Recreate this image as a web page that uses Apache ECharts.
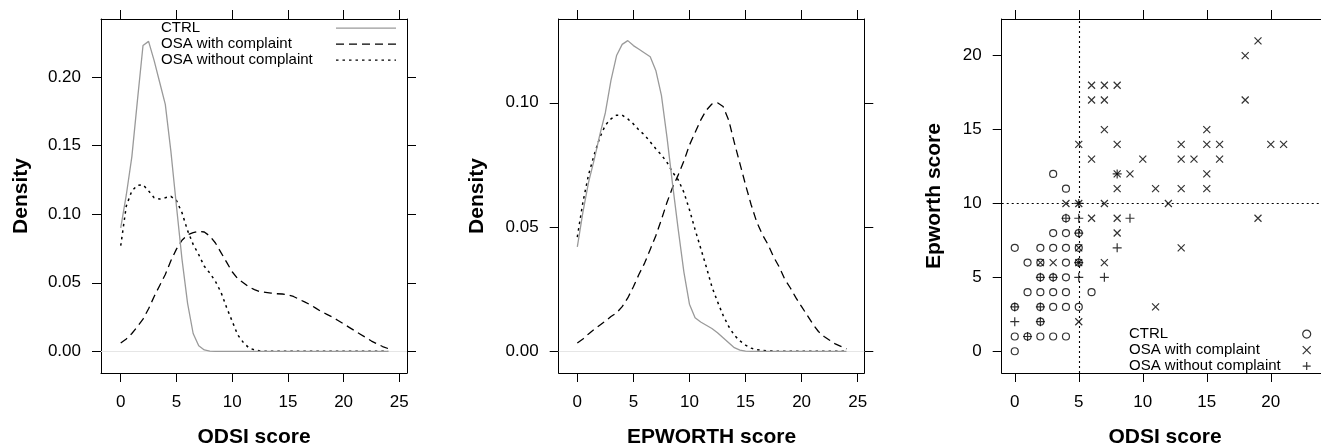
<!DOCTYPE html>
<html>
<head>
<meta charset="utf-8">
<script src="https://cdn.jsdelivr.net/npm/echarts@6/dist/echarts.min.js"></script>
<style>
html, body { margin: 0; padding: 0; background: #fff; }
#container1 { width: 1321px; height: 444px; }
</style>
</head>
<body>
<div id="container1"></div>
<script>
// group names
var groups = ['CTRL', 'OSA with complaint', 'OSA without complaint'];

// density evaluation grid (score)
var densityX = [0, 0.5, 1, 1.5, 2, 2.5, 3, 3.5, 4, 4.5, 5, 5.5, 6, 6.5, 7, 7.5, 8, 8.5, 9, 9.5,
    10, 10.5, 11, 11.5, 12, 12.5, 13, 13.5, 14, 14.5, 15, 15.5, 16, 16.5, 17, 17.5, 18, 18.5, 19, 19.5,
    20, 20.5, 21, 21.5, 22, 22.5, 23, 23.5, 24];

// ODSI density
var odsiCtrl = [0.090, 0.114, 0.142, 0.183, 0.223, 0.226, 0.212, 0.196, 0.180, 0.146, 0.106, 0.067, 0.035, 0.013, 0.004, 0.001, 0.0002,
    0, 0, 0, 0, 0, 0, 0, 0, 0, 0, 0, 0, 0, 0, 0, 0, 0, 0, 0, 0, 0, 0, 0, 0, 0, 0, 0, 0, 0, 0, 0, 0];
var odsiWith = [0.006, 0.009, 0.013, 0.018, 0.0235, 0.031, 0.040, 0.048, 0.056, 0.066, 0.0745, 0.081, 0.085, 0.0865, 0.0875, 0.087, 0.084, 0.079, 0.072, 0.065,
    0.058, 0.053, 0.050, 0.047, 0.045, 0.0435, 0.043, 0.0425, 0.042, 0.0418, 0.0412, 0.040, 0.038, 0.036, 0.034, 0.0315, 0.029, 0.027, 0.025, 0.0225,
    0.020, 0.0175, 0.015, 0.0125, 0.010, 0.0075, 0.0055, 0.0035, 0.002];
var odsiWithout = [0.077, 0.106, 0.117, 0.121, 0.1215, 0.117, 0.112, 0.111, 0.112, 0.113, 0.110, 0.101, 0.088, 0.078, 0.0705, 0.062, 0.057, 0.051, 0.043, 0.032,
    0.022, 0.012, 0.0065, 0.0025, 0.001, 0.0003, 0.0001, 0, 0, 0, 0, 0, 0, 0, 0, 0, 0, 0, 0, 0, 0, 0, 0, 0, 0, 0, 0, 0, 0];

// EPWORTH density
var epwCtrl = [0.042, 0.056, 0.068, 0.077, 0.087, 0.096, 0.109, 0.119, 0.1235, 0.125, 0.123, 0.1215, 0.120, 0.1185, 0.113, 0.103, 0.086, 0.067, 0.049, 0.032,
    0.019, 0.0135, 0.0118, 0.0105, 0.0092, 0.0075, 0.0055, 0.0035, 0.0015, 0.0005, 0.0001, 0, 0, 0, 0, 0, 0, 0, 0, 0, 0, 0, 0, 0, 0, 0, 0, 0, 0];
var epwWith = [0.0034, 0.005, 0.007, 0.0088, 0.0105, 0.0122, 0.014, 0.0155, 0.018, 0.0215, 0.026, 0.031, 0.0355, 0.041, 0.0465, 0.053, 0.060, 0.066, 0.071, 0.0765,
    0.083, 0.088, 0.093, 0.097, 0.0995, 0.1, 0.0985, 0.093, 0.084, 0.0755, 0.067, 0.059, 0.052, 0.047, 0.043, 0.038, 0.034, 0.029, 0.0255, 0.0215,
    0.018, 0.0145, 0.011, 0.008, 0.006, 0.0045, 0.003, 0.002, 0.001];
var epwWithout = [0.046, 0.060, 0.071, 0.079, 0.086, 0.091, 0.0935, 0.095, 0.095, 0.0935, 0.0915, 0.089, 0.087, 0.0843, 0.0815, 0.079, 0.076, 0.072, 0.069, 0.064,
    0.057, 0.049, 0.0415, 0.034, 0.026, 0.020, 0.0145, 0.010, 0.0065, 0.0042, 0.0025, 0.0013, 0.0007, 0.0004, 0.0002, 0.0001, 0, 0, 0, 0,
    0, 0, 0, 0, 0, 0, 0, 0, 0];

// scatter: [ODSI, Epworth]
var ptsCtrl = [[0,0],[0,1],[1,1],[2,1],[3,1],[4,1],[2,2],[0,3],[2,3],[3,3],[4,3],[5,3],
    [1,4],[2,4],[3,4],[4,4],[6,4],[2,5],[3,5],[4,5],[1,6],[2,6],[4,6],[5,6],
    [0,7],[2,7],[3,7],[4,7],[5,7],[3,8],[4,8],[5,8],[4,9],[4,11],[3,12]];
var ptsWith = [[5,2],[11,3],[2,6],[3,6],[5,6],[7,6],[5,7],[13,7],[8,8],[6,9],[8,9],[19,9],
    [4,10],[5,10],[7,10],[12,10],[8,11],[11,11],[13,11],[15,11],[8,12],[9,12],[15,12],
    [6,13],[10,13],[13,13],[14,13],[16,13],[5,14],[8,14],[13,14],[15,14],[16,14],[20,14],[21,14],
    [7,15],[15,15],[6,17],[7,17],[18,17],[6,18],[7,18],[8,18],[18,20],[19,21]];
var ptsWithout = [[1,1],[0,2],[2,2],[0,3],[2,3],[2,5],[3,5],[5,5],[7,5],[5,6],[8,7],[5,8],
    [4,9],[5,9],[9,9],[5,10],[8,12]];

// cut-off lines
var odsiCut = 5;
var epwCut = 10;

// tick labels
var scoreTicks = [0, 5, 10, 15, 20, 25];
var epwTicks = [0, 5, 10, 15, 20];
var densTicks1 = [0, 0.05, 0.1, 0.15, 0.2];
var densTicks2 = [0, 0.05, 0.1];

var FONT = 'Liberation Sans, Arial, Helvetica, sans-serif';
var myChart = echarts.init(document.getElementById('container1'));

function xAx(gi, min, max, ticks, name, top) {
    ticks = ticks.filter(function (v) { return v >= min && v <= max; });
    return {
        gridIndex: gi, type: 'value', min: min, max: max,
        position: top ? 'top' : 'bottom',
        axisLine: { show: true, onZero: false, lineStyle: { color: '#000', width: 1 } },
        axisTick: { show: true, length: 9, customValues: ticks, lineStyle: { color: '#000', width: 1 } },
        axisLabel: { show: !top, customValues: ticks, margin: 21, fontSize: 17, color: '#000', fontFamily: FONT },
        splitLine: { show: false },
        name: top ? '' : name, nameLocation: 'middle', nameGap: 54,
        nameTextStyle: { fontSize: 21, fontWeight: 'bold', color: '#000', fontFamily: FONT }
    };
}
function yAx(gi, min, max, ticks, name, gap, fmt, right) {
    ticks = ticks.filter(function (v) { return v >= min && v <= max; });
    return {
        gridIndex: gi, type: 'value', min: min, max: max,
        position: right ? 'right' : 'left',
        axisLine: { show: true, onZero: false, lineStyle: { color: '#000', width: 1 } },
        axisTick: { show: true, length: 9, customValues: ticks, lineStyle: { color: '#000', width: 1 } },
        axisLabel: { show: !right, customValues: ticks, margin: 20, fontSize: 17, color: '#000', fontFamily: FONT, formatter: fmt },
        splitLine: { show: false },
        name: right ? '' : name, nameLocation: 'middle', nameGap: gap,
        nameTextStyle: { fontSize: 21, fontWeight: 'bold', color: '#000', fontFamily: FONT }
    };
}
function pairs(xs, ys) {
    return xs.map(function (x, i) { return [x, ys[i]]; });
}

var lineStyles = [
    { color: '#9a9a9a', width: 1.3, type: 'solid' },
    { color: '#000', width: 1.3, type: [8, 5] },
    { color: '#000', width: 1.5, type: [2.5, 4] }
];
function densSeries(gi, data) {
    return data.map(function (ys, k) {
        var s = {
            name: groups[k], type: 'line', xAxisIndex: gi * 2, yAxisIndex: gi * 2,
            data: pairs(densityX, ys), showSymbol: false, symbol: 'circle', smooth: false,
            lineStyle: lineStyles[k], itemStyle: { color: lineStyles[k].color }, z: 3 - k + 2
        };
        if (k === 0) {
            s.markLine = {
                silent: true, symbol: 'none', z: 1, animation: false,
                label: { show: false },
                lineStyle: { color: '#e6e6e6', type: 'solid', width: 1 },
                data: [{ yAxis: 0 }]
            };
        }
        return s;
    });
}

var symCross = 'path://M0,0L10,10M10,0L0,10';
var symPlus = 'path://M5,0L5,10M0,5L10,5';
var pointStyle = { color: 'transparent', borderColor: '#000', borderWidth: 1.2 };

var scatterSeries = [
    { name: groups[0] + ' ', type: 'scatter', xAxisIndex: 4, yAxisIndex: 4, data: ptsCtrl,
      symbol: 'circle', symbolSize: 7, itemStyle: pointStyle,
      markLine: {
          silent: true, symbol: 'none', z: 1, animation: false, label: { show: false },
          lineStyle: { color: '#000', type: [2, 3], width: 1.1 },
          data: [{ xAxis: odsiCut }, { yAxis: epwCut }]
      } },
    { name: groups[1] + ' ', type: 'scatter', xAxisIndex: 4, yAxisIndex: 4, data: ptsWith,
      symbol: symCross, symbolSize: 7, itemStyle: pointStyle },
    { name: groups[2] + ' ', type: 'scatter', xAxisIndex: 4, yAxisIndex: 4, data: ptsWithout,
      symbol: symPlus, symbolSize: 9, itemStyle: pointStyle }
];

var option = {
    animation: false,
    backgroundColor: '#fff',
    textStyle: { fontFamily: FONT },
    grid: [
        { left: 101, top: 19, width: 306, height: 354, outerBoundsMode: 'none', containLabel: false },
        { left: 558.7, top: 19, width: 305.6, height: 354, outerBoundsMode: 'none', containLabel: false },
        { left: 1001.7, top: 19, width: 326.7, height: 354, outerBoundsMode: 'none', containLabel: false }
    ],
    xAxis: [
        xAx(0, -1.77, 25.69, scoreTicks, 'ODSI score', false),
        xAx(0, -1.77, 25.69, scoreTicks, '', true),
        xAx(1, -1.66, 25.59, scoreTicks, 'EPWORTH score', false),
        xAx(1, -1.66, 25.59, scoreTicks, '', true),
        xAx(2, -1.02, 24.5, scoreTicks, 'ODSI score', false),
        xAx(2, -1.02, 24.5, scoreTicks, '', true)
    ],
    yAxis: [
        yAx(0, -0.0158, 0.2423, densTicks1, 'Density', 69, function (v) { return v.toFixed(2); }, false),
        yAx(0, -0.0158, 0.2423, densTicks1, '', 0, null, true),
        yAx(1, -0.0087, 0.1337, densTicks2, 'Density', 71, function (v) { return v.toFixed(2); }, false),
        yAx(1, -0.0087, 0.1337, densTicks2, '', 0, null, true),
        yAx(2, -1.47, 22.48, epwTicks, 'Epworth score', 57, function (v) { return String(v); }, false),
        yAx(2, -1.47, 22.48, epwTicks, '', 0, null, true)
    ],
    legend: [
        {
            data: groups, orient: 'vertical', left: 156, top: 15.6, align: 'right',
            itemWidth: 60, itemHeight: 10, itemGap: 1, selectedMode: false,
            itemStyle: { opacity: 0 },
            lineStyle: { width: 1.3 },
            formatter: function (n) { return '{t|' + n + '}'; },
            textStyle: { rich: { t: { width: 170, align: 'left', fontSize: 15, lineHeight: 16, color: '#000', fontFamily: FONT } } }
        },
        {
            data: scatterSeries.map(function (s) { return s.name; }), orient: 'vertical', left: 1124, top: 321.6, align: 'right',
            itemWidth: 8, itemHeight: 8, itemGap: 1, selectedMode: false,
            itemStyle: { borderWidth: 1.2 },
            formatter: function (n) { return '{t|' + n.trim() + '}'; },
            textStyle: { rich: { t: { width: 168.7, align: 'left', fontSize: 15, lineHeight: 16, color: '#000', fontFamily: FONT } } }
        }
    ],
    series: densSeries(0, [odsiCtrl, odsiWith, odsiWithout])
        .concat(densSeries(1, [epwCtrl, epwWith, epwWithout]))
        .concat(scatterSeries)
};
myChart.setOption(option);
</script>
</body>
</html>
